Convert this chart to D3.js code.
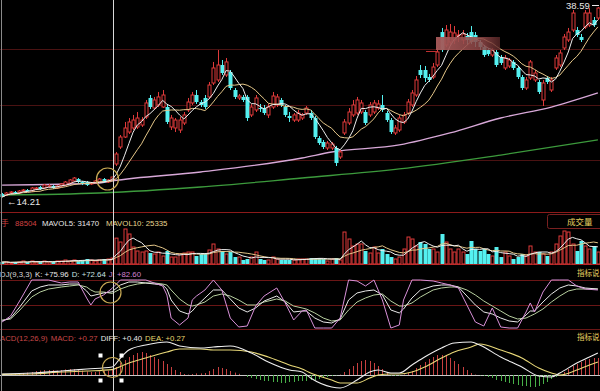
<!DOCTYPE html>
<html><head><meta charset="utf-8">
<script src="https://cdn.jsdelivr.net/npm/d3@7"></script>
<style>html,body{margin:0;padding:0;background:#000;overflow:hidden}svg{display:block}</style>
</head><body><svg id="c" width="600" height="391"></svg>
<script>
// ---------- DATA ----------
const opens=[14.60,14.47,14.73,14.86,14.73,14.98,15.11,14.98,15.24,15.50,
15.37,15.63,15.63,15.37,15.63,15.75,16.01,16.27,16.52,16.14,
16.14,15.88,16.01,16.14,16.52,16.14,16.40,18.45,20.63,21.91,
22.55,23.07,23.20,23.45,24.48,26.92,25.63,26.02,25.76,25.76,
23.20,23.07,22.81,23.71,25.38,26.28,27.30,26.40,26.92,27.05,
28.84,29.23,31.15,29.87,30.25,27.94,26.92,27.05,27.05,24.74,
25.38,25.63,25.63,24.74,25.76,26.02,26.66,25.76,24.61,24.09,
24.09,24.35,24.99,24.99,24.35,21.78,21.27,20.50,20.50,20.50,
19.35,22.43,23.71,24.74,24.99,25.12,25.12,24.74,25.12,25.63,
26.02,24.99,24.09,22.43,22.81,23.84,24.99,26.02,27.30,30.51,
30.51,29.61,29.61,31.15,35.38,33.72,34.10,34.36,34.87,34.36,
34.87,35.38,35.00,34.10,33.46,33.07,32.43,32.82,32.18,30.77,
31.02,31.54,30.77,29.61,28.20,29.48,29.23,28.97,26.66,29.48,
27.94,30.77,31.15,33.33,34.36,35.64,35.64,34.74,36.03,36.28,
36.92,37.18];
const closes=[14.21,14.73,14.86,14.73,14.98,15.11,14.98,15.37,15.37,15.24,
15.75,15.63,15.37,15.63,15.88,16.14,16.40,16.65,16.14,15.88,
15.75,16.01,16.27,16.52,16.14,16.40,16.78,19.73,21.91,23.07,
23.84,24.09,24.35,24.09,26.28,25.76,26.66,27.05,27.30,23.84,
24.35,24.09,24.09,24.74,26.40,27.30,26.40,26.02,25.76,28.58,
30.77,31.15,30.12,31.54,28.20,27.05,27.17,26.66,24.35,25.76,
26.92,25.51,24.99,25.76,27.17,27.05,26.02,24.74,24.35,24.74,
24.99,24.74,25.63,24.35,21.91,21.14,20.63,21.14,21.01,18.58,
19.99,23.84,25.12,26.02,26.66,26.28,23.71,26.02,26.28,26.15,
25.38,24.09,22.55,23.07,24.35,24.74,26.40,27.56,29.23,29.87,
29.48,29.23,30.89,32.82,33.07,35.64,35.38,35.26,35.00,35.13,
34.36,34.10,34.10,33.46,32.43,32.56,33.07,31.15,31.41,32.05,
31.79,30.77,29.61,28.20,29.23,31.54,30.12,27.69,28.84,28.97,
29.23,32.05,32.69,34.74,35.38,37.82,35.00,34.36,37.82,37.82,
36.28,38.46];
const highs=[14.73,14.86,14.98,14.98,15.11,15.24,15.24,15.50,15.50,15.63,
15.88,15.88,15.75,15.75,16.01,16.27,16.52,16.78,16.65,16.27,
16.27,16.14,16.40,16.65,16.65,16.52,16.78,19.99,22.17,23.84,
24.35,24.74,25.12,24.48,26.66,27.30,27.05,27.69,27.94,26.15,
24.74,24.35,24.48,25.12,26.92,27.69,27.94,26.66,27.30,28.97,
31.54,33.07,31.79,32.05,30.51,28.20,27.43,27.30,27.30,26.15,
27.30,26.15,26.02,26.15,27.69,27.43,26.92,26.02,25.12,24.99,
25.38,24.99,25.89,25.38,24.61,22.04,21.53,21.40,21.27,20.76,
20.24,24.22,25.63,26.66,27.05,26.66,25.38,26.40,26.66,26.66,
27.30,25.25,24.35,23.45,24.74,25.12,26.79,27.94,29.74,31.15,
31.02,30.00,31.41,33.33,35.90,36.28,36.41,36.15,35.64,35.64,
35.26,36.15,35.38,34.36,33.72,33.33,33.33,33.07,32.43,32.43,
32.05,31.79,31.02,29.87,29.61,31.79,30.51,29.23,29.23,29.74,
29.61,32.43,33.07,35.13,35.90,38.21,36.03,35.13,38.21,38.46,
37.31,38.59];
const lows=[14.21,14.34,14.60,14.60,14.60,14.86,14.86,14.86,15.11,15.11,
15.24,15.50,15.24,15.24,15.50,15.63,15.88,16.14,16.01,15.75,
15.63,15.75,15.88,16.01,16.01,16.01,16.27,18.19,20.37,21.78,
22.30,22.81,22.94,23.20,24.22,25.51,25.38,25.76,25.63,23.58,
22.81,22.55,22.43,23.45,25.12,26.02,26.15,25.76,25.51,26.79,
28.58,28.97,29.87,29.61,27.94,26.79,26.66,26.40,23.97,24.48,
25.12,25.12,24.74,24.35,25.51,25.76,25.76,24.48,23.84,23.84,
23.84,24.09,24.74,24.09,21.66,20.89,20.37,20.24,20.24,18.19,
19.09,22.17,23.45,24.48,24.74,24.86,23.45,24.48,24.86,25.38,
25.12,23.84,22.30,22.17,22.55,23.58,24.74,25.76,27.05,29.48,
28.97,28.97,29.35,30.89,32.82,33.46,33.72,33.84,34.10,33.84,
33.72,33.84,33.46,33.07,32.18,32.31,32.18,30.89,31.15,30.51,
30.77,30.51,29.35,27.94,27.94,29.23,28.97,27.43,25.89,28.71,
27.69,30.51,30.89,33.07,34.10,35.38,34.74,34.10,35.77,36.03,
36.03,36.92];
const volumes=[6800,6800,3400,6800,6800,10300,6800,10300,6800,6800,
10300,6800,6800,10300,10300,13700,10300,13700,10300,13700,
17100,13700,10300,13700,17100,17100,20500,88504,75200,119700,
102600,58100,44500,41000,44500,37600,34200,41000,27400,44500,
23900,23900,34200,37600,41000,41000,27400,34200,34200,47900,
68400,51300,44500,34200,41000,23900,23900,13700,17100,23900,
41000,17100,13700,13700,23900,17100,13700,13700,13700,13700,
17100,17100,17100,20500,20500,20500,17100,10300,17100,20500,
13700,109400,85500,61600,68400,68400,44500,37600,58100,37600,
51300,34200,23900,17100,23900,51300,92300,85500,61600,75200,
68400,51300,51300,41000,102600,75200,51300,41000,51300,41000,
34200,78700,51300,44500,51300,34200,27400,58100,23900,41000,
27400,17100,23900,34200,27400,61600,41000,41000,34200,27400,
41000,68400,95800,112900,109400,68400,44500,78700,61600,51300,
61600,41000];
// long moving averages (candle index -> price)
const ma60Idx=[0,23,26,47,71,78,94,106,118,130,141];
const ma60Vals=[15.75,16.01,16.27,17.42,19.22,19.99,20.89,22.43,24.35,25.76,27.56];
const ma120Idx=[0,23,47,71,94,118,141];
const ma120Vals=[14.47,14.73,15.50,16.65,17.81,19.60,21.53];
// KDJ
const kdjIdx=[0,2,4,7,9,11,14,16,18,20,21,22,24,26,28,30,32,34,36,38,39,40,42,44,45,46,48,50,52,54,56,58,60,62,65,67,69,71,72,74,76,78,80,82,84,86,88,90,92,94,95,97,99,102,104,106,108,110,112,114,116,118,120,122,124,125,126,128,130,132,134,136,138,141];
const kVals=[16.3,22.4,42.9,77.6,85.7,89.8,89.8,91.8,91.8,77.6,67.3,69.4,73.5,75.96,89.8,95.9,95.9,93.9,91.8,89.8,81.6,59.2,36.7,30.6,36.7,46.9,63.3,79.6,79.6,61.2,42.9,34.7,42.9,57.1,67.3,55.1,34.7,36.7,36.7,22.4,14.3,12.2,20.4,59.2,73.5,77.6,79.6,69.4,38.8,32.7,40.8,63.3,79.6,87.8,89.8,89.8,85.7,67.3,49,34.7,30.6,22.4,16.3,14.3,28.6,36.7,36.7,55.1,71.4,83.7,89.8,87.8,83.7,81.6];
const dVals=[18.4,20.4,36.7,65.3,75.5,81.6,85.7,87.8,89.8,85.7,79.6,75.5,75.5,72.64,81.6,87.8,91.8,93.9,93.9,91.8,89.8,79.6,61.2,49,46.9,49,55.1,67.3,71.4,67.3,59.2,49,49,55.1,61.2,57.1,46.9,42.9,40.8,32.7,22.4,16.3,18.4,38.8,55.1,63.3,69.4,71.4,57.1,46.9,46.9,53.1,65.3,79.6,83.7,85.7,85.7,79.6,69.4,57.1,46.9,36.7,26.5,20.4,22.4,26.5,30.6,40.8,55.1,67.3,77.6,81.6,81.6,81.6];
const jVals=[14.3,26.5,55.1,100,100,100,93.9,95.9,95.9,63.3,49,61.2,69.4,82.6,100,100,100,100,93.9,87.8,69.4,22.4,8.2,22.4,59.2,67.3,79.6,100,79.6,22.4,4.1,6.1,46.9,67.3,83.7,53.1,18.4,36.7,38.8,2,2,2,22.4,100,98,87.8,100,59.2,2,8.2,59.2,100,100,98,93.9,89.8,83.7,49,14.3,6.1,42.9,4.1,2,2,34.7,53.1,34.7,75.5,100,100,100,87.8,81.6,79.6];
// MACD
const macdIdx=[0,7,14,20,26,28,30,34,39,42,47,50,54,59,63,68,71,73,78,80,84,87,89,92,94,97,100,104,107,111,113,118,123,127,130,132,136,139,141];
const diffVals=[0.05,0.10,0.20,0.30,0.40,0.85,1.25,1.50,1.65,1.45,1.35,1.40,1.45,1.10,0.65,0.25,0.15,-0.15,-0.60,-0.65,-0.25,0.15,0.25,0.10,0.10,0.50,0.90,1.35,1.60,1.65,1.50,0.90,0.40,-0.05,-0.10,0.10,0.60,0.90,1.10];
const deaVals=[0.03,0.05,0.15,0.20,0.27,0.42,0.60,0.85,1.15,1.30,1.30,1.25,1.25,1.15,0.90,0.50,0.30,0.10,-0.25,-0.40,-0.40,-0.15,0.00,0.05,0.05,0.15,0.40,0.85,1.15,1.40,1.55,1.25,0.85,0.35,0.10,0.00,0.25,0.50,0.65];
const macdHist=[0.02,0.03,0.05,0.05,0.08,0.10,0.12,0.15,0.20,0.22,
0.25,0.25,0.25,0.22,0.25,0.28,0.30,0.30,0.28,0.22,
0.18,0.15,0.15,0.18,0.20,0.22,0.27,0.40,0.60,0.75,
0.90,1.00,1.10,1.15,1.10,1.00,0.90,0.80,0.70,0.55,
0.40,0.25,0.15,0.05,0.02,0.05,0.08,0.08,0.10,0.20,
0.30,0.40,0.35,0.30,0.20,0.12,0.06,0.00,-0.10,-0.15,
-0.20,-0.25,-0.30,-0.30,-0.35,-0.35,-0.40,-0.40,-0.35,-0.35,
-0.30,-0.30,-0.30,-0.25,-0.25,-0.20,-0.15,-0.10,-0.05,-0.02,
0.02,0.15,0.30,0.45,0.60,0.70,0.75,0.70,0.60,0.45,
0.30,0.10,-0.03,-0.05,-0.03,0.03,0.10,0.20,0.35,0.50,
0.65,0.80,0.90,1.00,1.00,0.95,0.85,0.70,0.55,0.40,
0.25,0.10,0.02,-0.02,-0.05,-0.10,-0.15,-0.25,-0.30,-0.35,
-0.40,-0.45,-0.50,-0.55,-0.55,-0.60,-0.60,-0.55,-0.45,-0.35,
-0.20,-0.10,0.00,0.15,0.30,0.45,0.55,0.65,0.75,0.80,
0.85,0.85];
const cursorIndex=26;
const gridPrices=[18.96,26.02,33.20];
const highLabel="38.59", lowLabel="14.21";
const volHeader=["手","88504","MAVOL5: 31470","MAVOL10: 25335"];
const kdjHeader=["DJ(9,3,3)","K: +75.96","D: +72.64","J: +82.60"];
const macdHeader=["ACD(12,26,9)","MACD: +0.27","DIFF: +0.40","DEA: +0.27"];
const sideLabels=["成交量","指标说","指标说"];

// ---------- DRAW ----------
const W=600,H=391,N=closes.length;
const svg=d3.select("#c");
svg.append("rect").attr("width",W).attr("height",H).attr("fill","#000");
const x=d3.scaleBand().domain(d3.range(N)).range([0,W]).paddingInner(0.28).paddingOuter(0.14);
const xc=i=>x(i)+x.bandwidth()/2;
const yP=d3.scaleLinear().domain([12.29,39.49]).range([212,0]);
const yV=d3.scaleLinear().domain([0,130000]).range([264,226]);
const yK=d3.scaleLinear().domain([0,100]).range([329,280]);
const yM=d3.scaleLinear().domain([-0.8,1.7]).range([391,341]);
const UP="#e03a3a", DN="#54f0f0";
const isUp=i=>closes[i]>=opens[i];
const ma=(arr,n)=>arr.map((_,i)=>d3.mean(arr.slice(Math.max(0,i-n+1),i+1)));
const hline=(y,c,w)=>svg.append("line").attr("x1",0).attr("x2",W).attr("y1",Math.round(y)+0.5).attr("y2",Math.round(y)+0.5).attr("stroke",c).attr("stroke-width",w||1);
const FONT="'Liberation Sans',Arial,sans-serif", CJK="'Noto Sans CJK SC',sans-serif";

// grid / panel lines
gridPrices.forEach(p=>hline(yP(p),"#4a1212"));
hline(212,"#8c1a1a");
hline(yV(0),"#a01c1c");
[0,50,100].forEach(v=>hline(yK(v),"#6a1616"));
hline(yM(0),"#c8c8c8");

// main: long MAs
const sm=d3.line().curve(d3.curveMonotoneX);
svg.append("path").attr("d",sm(ma120Idx.map((d,k)=>[xc(d),yP(ma120Vals[k])]))).attr("fill","none").attr("stroke","#3c9a3c").attr("stroke-width",1.3);
svg.append("path").attr("d",sm(ma60Idx.map((d,k)=>[xc(d),yP(ma60Vals[k])]))).attr("fill","none").attr("stroke","#d8a8d8").attr("stroke-width",1.3);

// candles
const cg=svg.append("g");
d3.range(N).forEach(i=>{
  const col=isUp(i)?UP:DN, cx=Math.round(xc(i))+0.5;
  cg.append("line").attr("x1",cx).attr("x2",cx).attr("y1",yP(highs[i])).attr("y2",yP(lows[i])).attr("stroke",col).attr("stroke-width",1);
  const top=yP(Math.max(opens[i],closes[i])), bot=yP(Math.min(opens[i],closes[i]));
  const h=Math.max(1,bot-top);
  if(isUp(i)) cg.append("rect").attr("x",cx-1.5).attr("y",top).attr("width",3).attr("height",h).attr("fill","#000").attr("stroke",col).attr("stroke-width",1);
  else cg.append("rect").attr("x",cx-2).attr("y",top).attr("width",4).attr("height",h).attr("fill",col);
});
// short MAs
const ln=d3.line();
const ma5=ma(closes,5), ma10=ma(closes,10);
svg.append("path").attr("d",ln(ma10.map((v,i)=>[xc(i),yP(v)]))).attr("fill","none").attr("stroke","#e6c88a").attr("stroke-width",1);
svg.append("path").attr("d",ln(ma5.map((v,i)=>[xc(i),yP(v)]))).attr("fill","none").attr("stroke","#eeeeee").attr("stroke-width",1);

// overlay patch
const gr=svg.append("defs").append("linearGradient").attr("id","ov");
gr.append("stop").attr("offset","0").attr("stop-color","#a85a5a").attr("stop-opacity",0.95);
gr.append("stop").attr("offset","0.75").attr("stop-color","#8a4444").attr("stop-opacity",0.85);
gr.append("stop").attr("offset","1").attr("stop-color","#5a2828").attr("stop-opacity",0.8);
svg.append("rect").attr("x",436).attr("y",37).attr("width",64).attr("height",13).attr("fill","url(#ov)");
svg.append("line").attr("x1",426).attr("x2",437).attr("y1",51.5).attr("y2",51.5).attr("stroke","#c03030");

// price labels
svg.append("text").attr("x",566).attr("y",9).attr("fill","#e8e8e8").attr("font-family",FONT).attr("font-size",9.5).text(highLabel);
svg.append("line").attr("x1",592).attr("x2",599).attr("y1",5.5).attr("y2",5.5).attr("stroke","#e8e8e8");
svg.append("text").attr("x",7).attr("y",205).attr("fill","#e8e8e8").attr("font-family",FONT).attr("font-size",9.5).text("←"+lowLabel);

// volume
const vg=svg.append("g");
d3.range(N).forEach(i=>{
  const col=isUp(i)?UP:DN, cx=Math.round(xc(i))+0.5;
  const t=yV(volumes[i]), b=yV(0), h=Math.max(1,b-t);
  if(isUp(i)) vg.append("rect").attr("x",cx-1.5).attr("y",t).attr("width",3).attr("height",h).attr("fill","#000").attr("stroke",col);
  else vg.append("rect").attr("x",cx-2).attr("y",t).attr("width",4).attr("height",h).attr("fill",col);
});
const mv5=ma(volumes,5), mv10=ma(volumes,10);
svg.append("path").attr("d",ln(mv10.map((v,i)=>[xc(i),yV(v)]))).attr("fill","none").attr("stroke","#e6c88a");
svg.append("path").attr("d",ln(mv5.map((v,i)=>[xc(i),yV(v)]))).attr("fill","none").attr("stroke","#eeeeee");

// KDJ
const kl=d3.line();
svg.append("path").attr("d",kl(kdjIdx.map((d,k)=>[xc(d),yK(dVals[k])]))).attr("fill","none").attr("stroke","#b8d0a0");
svg.append("path").attr("d",kl(kdjIdx.map((d,k)=>[xc(d),yK(kVals[k])]))).attr("fill","none").attr("stroke","#e8e8e8");
svg.append("path").attr("d",kl(kdjIdx.map((d,k)=>[xc(d),yK(jVals[k])]))).attr("fill","none").attr("stroke","#d890d8");

// MACD
const mg=svg.append("g");
d3.range(N).forEach(i=>{
  const v=macdHist[i]; if(Math.abs(v)<0.005) return;
  const cx=Math.round(xc(i))+0.5;
  mg.append("line").attr("x1",cx).attr("x2",cx).attr("y1",yM(0)).attr("y2",yM(v)).attr("stroke",v>0?"#c84040":"#48b048");
});
svg.append("path").attr("d",sm(macdIdx.map((d,k)=>[xc(d),yM(deaVals[k])]))).attr("fill","none").attr("stroke","#e8d878").attr("stroke-width",1.1);
svg.append("path").attr("d",sm(macdIdx.map((d,k)=>[xc(d),yM(diffVals[k])]))).attr("fill","none").attr("stroke","#eeeeee").attr("stroke-width",1.1);

// headers: natural width, laid out left to right without overlap
function header(items,cols,starts,y,fonts){
  let end=-99;
  items.forEach((t,k)=>{
    const tx=svg.append("text").attr("y",y).attr("fill",cols[k])
      .attr("font-family",fonts&&fonts[k]?fonts[k]:FONT).attr("font-size",7.8).text(t);
    const xs=Math.max(starts[k],end+3);
    tx.attr("x",xs);
    end=xs+tx.node().getComputedTextLength();
  });
}
header(volHeader,["#d04040","#d04040","#e8e8e8","#e8d890"],[1,15,42,106],225.5,[CJK]);
header(kdjHeader,["#d8d8d8","#e8e8e8","#c8e0e0","#d080d0"],[0,29,66,106],276.5);
header(macdHeader,["#c84848","#c84848","#e8e8e8","#e8d870"],[0,34,87,137],340.5);

// side labels
svg.append("rect").attr("x",547.5).attr("y",214.5).attr("width",60).attr("height",14).attr("rx",2).attr("fill","none").attr("stroke","#7a2020");
svg.append("text").attr("x",567).attr("y",225).attr("fill","#e8d060").attr("font-family",CJK).attr("font-size",8.5).text(sideLabels[0]);
svg.append("text").attr("x",577).attr("y",276).attr("fill","#e8d060").attr("font-family",CJK).attr("font-size",7.5).text(sideLabels[1]);
svg.append("text").attr("x",577).attr("y",340).attr("fill","#e8d060").attr("font-family",CJK).attr("font-size",7.5).text(sideLabels[2]);

// left border & cursor
svg.append("line").attr("x1",1.5).attr("x2",1.5).attr("y1",0).attr("y2",H).attr("stroke","#8a8a8a");
const cux=Math.round(xc(cursorIndex))+1.5;
svg.append("line").attr("x1",cux).attr("x2",cux).attr("y1",0).attr("y2",H).attr("stroke","#d8d8d8");

// highlight circles
const ring="#c8aa55";
[[cux-6,179,11],[cux-3,292.5,10.5],[cux-1,367.5,10]].forEach(c=>svg.append("circle").attr("cx",c[0]).attr("cy",c[1]).attr("r",c[2]).attr("fill","none").attr("stroke",ring).attr("stroke-width",1.2));
[[-14,-12],[7,-12],[-14,13],[7,13]].forEach(o=>svg.append("rect").attr("x",cux-1+o[0]).attr("y",367.5+o[1]-2).attr("width",4).attr("height",4).attr("fill","#ffffff"));
</script></body></html>
